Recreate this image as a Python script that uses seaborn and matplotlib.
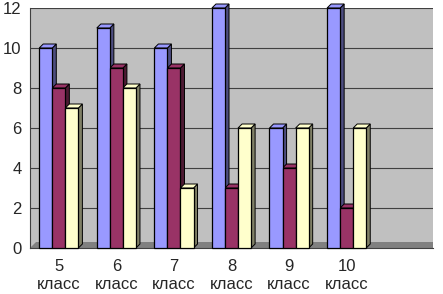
import numpy as np
import pandas as pd
import matplotlib
matplotlib.use("Agg")
import matplotlib.pyplot as plt
from matplotlib.patches import Polygon
import seaborn as sns

# values
classes = ["5\nкласс", "6\nкласс", "7\nкласс", "8\nкласс", "9\nкласс", "10\nкласс"]
series_a = [10, 11, 10, 12, 6, 12]
series_b = [8, 9, 9, 3, 4, 2]
series_c = [7, 8, 3, 6, 6, 6]
series_names = ["A", "B", "C"]
colors = ["#9999FF", "#993366", "#FFFFCC"]
side_colors = ["#4D4D80", "#4D1A33", "#808066"]

rows = []
for name, vals in zip(series_names, [series_a, series_b, series_c]):
    for c, v in zip(classes, vals):
        rows.append({"cls": c, "val": v, "series": name})
df = pd.DataFrame(rows)
order = classes + [" "]  # empty last slot as in the original

sns.set_style("white")
plt.rcParams['font.family'] = ['Liberation Sans', 'DejaVu Sans']

fig = plt.figure(figsize=(4.43, 2.94), dpi=100)
ax = fig.add_axes([30 / 443, 46 / 294, 403 / 443, 240 / 294])
ax.set_facecolor("#C0C0C0")

sns.barplot(data=df, x="cls", y="val", hue="series", order=order,
            hue_order=series_names, palette=colors, width=0.68,
            edgecolor="black", linewidth=0.9, saturation=1,
            legend=False, ax=ax, zorder=3)

# fake 3D depth
dx, dy = 0.07, 0.2
for i, bar in enumerate(list(ax.patches)):
    bar.set_clip_on(False)
    x, w, h = bar.get_x(), bar.get_width(), bar.get_height()
    if np.isnan(h) or h == 0:
        continue
    s = i // len(classes)
    side = Polygon([(x + w, 0), (x + w + dx, dy), (x + w + dx, h + dy), (x + w, h)],
                   closed=True, facecolor=side_colors[s], edgecolor="black",
                   linewidth=0.7, zorder=2.5, clip_on=False)
    top = Polygon([(x, h), (x + dx, h + dy), (x + w + dx, h + dy), (x + w, h)],
                  closed=True, facecolor=colors[s], edgecolor="black",
                  linewidth=0.7, zorder=2.5, clip_on=False)
    ax.add_patch(side)
    ax.add_patch(top)

floor = Polygon([(-0.5, 0), (6.5, 0), (6.5 + dx * 1.5, dy * 1.5), (-0.5 + dx * 1.5, dy * 1.5)],
                closed=True, facecolor="#808080", edgecolor="none", zorder=1)
ax.add_patch(floor)

ax.set_xlim(-0.5, 6.5)
ax.set_ylim(0, 12)
ax.set_yticks(range(0, 13, 2))
ax.yaxis.grid(True, color="#404040", linewidth=0.8, zorder=0)
ax.set_axisbelow(True)
ax.set_xlabel("")
ax.set_ylabel("")
ax.set_xticks(np.arange(-0.5, 7, 1), minor=True)
ax.tick_params(axis="x", which="major", length=0, labelsize=12, pad=8)
ax.tick_params(axis="x", which="minor", length=4, color="#404040")
ax.tick_params(axis="y", length=4, labelsize=12, color="#404040", pad=2)
for sp in ["top", "right"]:
    ax.spines[sp].set_visible(False)
ax.spines["left"].set_color("#404040")
ax.spines["bottom"].set_color("#404040")

fig.savefig("out.png", dpi=100)
